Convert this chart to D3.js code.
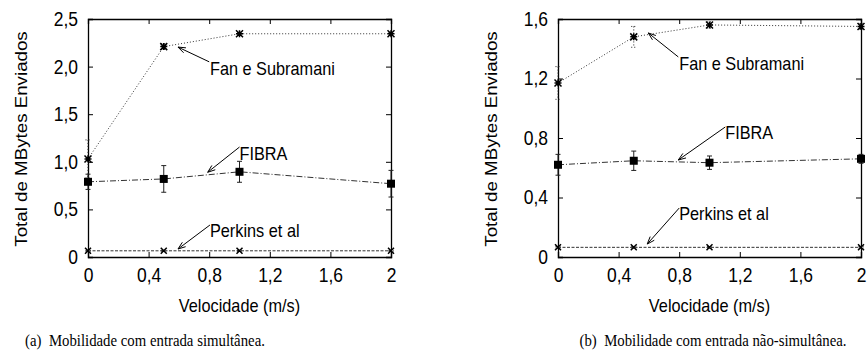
<!DOCTYPE html>
<html lang="pt">
<head>
    <meta charset="UTF-8">
    <title>Total de MBytes Enviados</title>
    <script src="https://cdn.jsdelivr.net/npm/d3@7"></script>
</head>
<body>
    <div id="chart-space"></div>

    <script>

        // dados
        var velocidades = [0, 0.5, 1, 2];
        var xTicks = [0, 0.4, 0.8, 1.2, 1.6, 2];
        var xTickLabels = ["0", "0,4", "0,8", "1,2", "1,6", "2"];

        var yTicksA = [0, 0.5, 1, 1.5, 2, 2.5];
        var yTickLabelsA = ["0", "0,5", "1,0", "1,5", "2,0", "2,5"];
        var fanA = [1.03, 2.21, 2.345, 2.345];
        var fanErrA = [0.2, 0.03, 0.015, 0.015];
        var fibraA = [0.79, 0.82, 0.895, 0.77];
        var fibraErrA = [0.08, 0.14, 0.11, 0.14];
        var perkinsA = [0.065, 0.065, 0.065, 0.065];
        var perkinsErrA = [0.005, 0.005, 0.005, 0.005];

        var yTicksB = [0, 0.4, 0.8, 1.2, 1.6];
        var yTickLabelsB = ["0", "0,4", "0,8", "1,2", "1,6"];
        var fanB = [1.17, 1.48, 1.56, 1.55];
        var fanErrB = [0.11, 0.07, 0.02, 0.02];
        var fibraB = [0.62, 0.647, 0.634, 0.66];
        var fibraErrB = [0.07, 0.065, 0.045, 0.03];
        var perkinsB = [0.065, 0.065, 0.065, 0.065];
        var perkinsErrB = [0.005, 0.005, 0.005, 0.005];

        var width = 868;
        var height = 353;
        var stretchY = 1.15; // a figura original esta esticada na vertical

        var svg = d3.select("#chart-space")
            .append("svg")
            .attr("width", width)
            .attr("height", height);

        // estilos das series (tracejado)
        var dashFan = "1,2";
        var dashFibra = "6,2,1,2";
        var dashPerkins = "3,1.5";

        var panels = [
            {
                left: 88, right: 391, top: 19, bottom: 257, yMax: 2.5, captionX: 145,
                yTicks: yTicksA, yLabels: yTickLabelsA,
                caption: "(a)  Mobilidade com entrada simultânea.",
                series: [
                    {values: fanA, err: fanErrA, dash: dashFan, marker: "star", label: "Fan e Subramani",
                     text: [0.805, 1.985], from: [0.8, 2.05], to: [0.594, 2.205]},
                    {values: fibraA, err: fibraErrA, dash: dashFibra, marker: "square", label: "FIBRA",
                     text: [1.0, 1.09], from: [1.0, 1.155], to: [0.79, 0.89]},
                    {values: perkinsA, err: perkinsErrA, dash: dashPerkins, marker: "cross", label: "Perkins et al",
                     text: [0.805, 0.28], from: [0.805, 0.336], to: [0.594, 0.084]}
                ]
            },
            {
                left: 558, right: 861, top: 19, bottom: 257, yMax: 1.6, captionX: 713,
                yTicks: yTicksB, yLabels: yTickLabelsB,
                caption: "(b)  Mobilidade com entrada não-simultânea.",
                series: [
                    {values: fanB, err: fanErrB, dash: dashFan, marker: "star", label: "Fan e Subramani",
                     text: [0.8, 1.304], from: [0.794, 1.345], to: [0.596, 1.506]},
                    {values: fibraB, err: fibraErrB, dash: dashFibra, marker: "square", label: "FIBRA",
                     text: [1.104, 0.84], from: [1.104, 0.874], to: [0.794, 0.652]},
                    {values: perkinsB, err: perkinsErrB, dash: dashPerkins, marker: "cross", label: "Perkins et al",
                     text: [0.8, 0.296], from: [0.8, 0.329], to: [0.589, 0.087]}
                ]
            }
        ];

        panels.forEach(drawPanel);

        // estica o texto na vertical em torno do seu ponto de ancoragem
        function stretch(sel) {
            sel.each(function() {
                var el = d3.select(this);
                var x = +el.attr("x") || 0, y = +el.attr("y") || 0;
                el.attr("transform", "translate(" + x + "," + y + ") scale(1," + stretchY + ") translate(" + (-x) + "," + (-y) + ")");
            });
        }

        function drawPanel(p) {
            var xScale = d3.scaleLinear().domain([0, 2]).range([p.left, p.right]);
            var yScale = d3.scaleLinear().domain([0, p.yMax]).range([p.bottom, p.top]);
            var g = svg.append("g");

            // eixos com ticks para dentro nos quatro lados
            g.append("g")
                .attr("transform", "translate(0," + p.bottom + ")")
                .call(d3.axisBottom(xScale).tickValues(xTicks).tickSize(-5).tickPadding(11)
                    .tickFormat(function(d, i) { return xTickLabels[i]; }));
            g.append("g")
                .attr("transform", "translate(0," + p.top + ")")
                .call(d3.axisTop(xScale).tickValues(xTicks).tickSize(-5).tickFormat(""));
            g.append("g")
                .attr("transform", "translate(" + p.left + ",0)")
                .call(d3.axisLeft(yScale).tickValues(p.yTicks).tickSize(-5).tickPadding(10)
                    .tickFormat(function(d, i) { return p.yLabels[i]; }));
            g.append("g")
                .attr("transform", "translate(" + p.right + ",0)")
                .call(d3.axisRight(yScale).tickValues(p.yTicks).tickSize(-5).tickFormat(""));

            g.selectAll(".domain").attr("stroke", "#000").attr("stroke-width", 1.3);
            stretch(g.selectAll(".tick text"));

            var line = d3.line()
                .x(function(d, i) { return xScale(velocidades[i]); })
                .y(function(d) { return yScale(d); });

            p.series.forEach(function(s) {
                g.append("path")
                    .attr("d", line(s.values))
                    .attr("fill", "none")
                    .attr("stroke", "#333")
                    .attr("stroke-width", 1)
                    .attr("stroke-dasharray", s.dash);

                // barras de erro
                var eb = g.append("g").attr("stroke", "#222").attr("stroke-width", 1)
                    .attr("stroke-dasharray", s.dash === dashFibra ? null : s.dash);
                s.values.forEach(function(v, i) {
                    var x = xScale(velocidades[i]);
                    var y1 = yScale(v + s.err[i]), y2 = yScale(v - s.err[i]);
                    eb.append("line").attr("x1", x).attr("x2", x).attr("y1", y1).attr("y2", y2);
                    eb.append("line").attr("x1", x - 2.5).attr("x2", x + 2.5).attr("y1", y1).attr("y2", y1)
                        .attr("stroke-dasharray", null);
                    eb.append("line").attr("x1", x - 2.5).attr("x2", x + 2.5).attr("y1", y2).attr("y2", y2)
                        .attr("stroke-dasharray", null);
                });

                // marcadores
                s.values.forEach(function(v, i) {
                    var x = xScale(velocidades[i]), y = yScale(v);
                    if (s.marker === "square") {
                        g.append("rect").attr("x", x - 4).attr("y", y - 4)
                            .attr("width", 8).attr("height", 8).attr("fill", "#000");
                    } else {
                        var r = s.marker === "star" ? 3.5 : 3;
                        var path = "M" + (x - r) + "," + (y - r) + "L" + (x + r) + "," + (y + r) +
                            "M" + (x - r) + "," + (y + r) + "L" + (x + r) + "," + (y - r);
                        if (s.marker === "star") {
                            path += "M" + (x - r) + "," + y + "L" + (x + r) + "," + y +
                                "M" + x + "," + (y - r) + "L" + x + "," + (y + r);
                        }
                        g.append("path").attr("d", path).attr("stroke", "#000").attr("stroke-width", 1.5);
                    }
                });

                // rotulo com seta
                var fx = xScale(s.from[0]), fy = yScale(s.from[1]);
                var tx = xScale(s.to[0]), ty = yScale(s.to[1]);
                g.append("line").attr("x1", fx).attr("y1", fy).attr("x2", tx).attr("y2", ty)
                    .attr("stroke", "#000").attr("stroke-width", 1);
                var ang = Math.atan2(ty - fy, tx - fx);
                var hl = 8, ha = 0.35;
                g.append("path")
                    .attr("d", "M" + (tx - hl * Math.cos(ang - ha)) + "," + (ty - hl * Math.sin(ang - ha)) +
                        "L" + tx + "," + ty +
                        "L" + (tx - hl * Math.cos(ang + ha)) + "," + (ty - hl * Math.sin(ang + ha)))
                    .attr("fill", "none").attr("stroke", "#000").attr("stroke-width", 1);
                g.append("text")
                    .attr("class", "annot")
                    .attr("x", xScale(s.text[0]))
                    .attr("y", yScale(s.text[1]))
                    .attr("dy", "0.35em")
                    .text(s.label)
                    .call(stretch);
            });

            var cx = (p.left + p.right) / 2;
            g.append("text")
                .attr("class", "label")
                .attr("x", cx).attr("y", 305).attr("dy", "0.35em")
                .attr("text-anchor", "middle")
                .text("Velocidade (m/s)")
                .call(stretch);
            g.append("text")
                .attr("class", "label")
                .attr("transform", "translate(" + (p.left - 67) + "," + ((p.top + p.bottom) / 2 + 1) + ") scale(1," + stretchY + ") rotate(-90)")
                .attr("dy", "0.35em")
                .attr("text-anchor", "middle")
                .text("Total de MBytes Enviados");
            g.append("text")
                .attr("class", "caption")
                .attr("x", p.captionX).attr("y", 340).attr("dy", "0.35em")
                .attr("text-anchor", "middle")
                .text(p.caption)
                .call(stretch);
        }
    </script>

    <style>
        body { margin: 0; background: #fff; }
        .tick text { font-family: "Liberation Sans", Arial, sans-serif; font-size: 17.5px; fill: #000; }
        .tick line { stroke: #000; }
        .annot, .label { font-family: "Liberation Sans", Arial, sans-serif; font-size: 16.3px; fill: #000; }
        .caption { font-family: "Liberation Serif", "Times New Roman", serif; font-size: 14.8px; fill: #000; white-space: pre; }
    </style>
</body>
</html>
